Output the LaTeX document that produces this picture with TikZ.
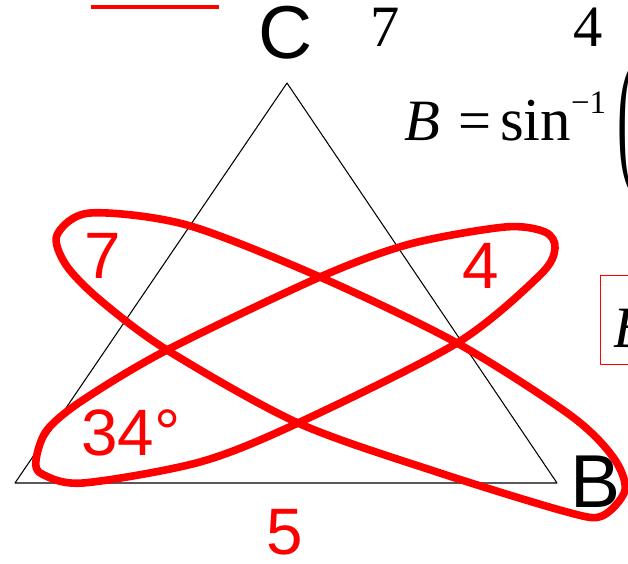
\documentclass[tikz,border=0pt]{standalone}
\usepackage{fontspec}
\setmainfont{Liberation Serif}
\setsansfont{Liberation Sans}
\begin{document}
\begin{tikzpicture}[x=0.03cm,y=-0.03cm,line cap=round,line join=round,
  lab/.style={inner sep=0pt,font=\sffamily\fontsize{64}{64}\selectfont},
  redlab/.style={inner sep=0pt,text=red,font=\sffamily\fontsize{56}{56}\selectfont},
  serif/.style={inner sep=0pt,font=\fontsize{50}{50}\selectfont},
  loop/.style={red,line width=6.5pt}]
  \clip (0,0) rectangle (628,563);
  % triangle
  \coordinate (A) at (15,483);
  \coordinate (C) at (287,83);
  \coordinate (B) at (557,483);
  \draw[line width=0.9pt] (A) -- (C) -- (B) -- cycle;
  \node[lab] (labC) at (286,33) {C};
  \node[lab] (labB) at (595,482) {B};
  % loops
  \draw[loop] plot[smooth cycle] coordinates {(57,235) (90,213) (187,225) (320,277) (457,343)
    (570,415) (613,457) (625,490) (602,516) (567,512) (440,473) (298,423) (167,350) (100,300) (66,265)};
  \draw[loop] plot[smooth cycle] coordinates {(36,460) (47,430) (83,400) (167,350) (320,277)
    (410,244) (505,227) (545,232) (555,248) (540,275) (457,343) (298,423) (200,462) (83,483) (42,474)};
  \node[redlab] (seven) at (103,256) {7};
  \node[redlab] (four) at (481,266) {4};
  \node[redlab] (angle) at (131,433) {34°};
  \node[redlab] (five) at (285,532) {5};
  % top
  \draw[red,line width=3.8pt,line cap=butt] (91,7) -- (219,7);
  \node[serif] (topseven) at (385,27) {7};
  \node[serif] (topfour) at (588,27) {4};
  \node[serif,anchor=base west] (formula) at (404,140) {\textit{B}\hspace{16pt}=\hspace{7pt}{\fontsize{52}{52}\selectfont sin}\raisebox{23pt}{\fontsize{28}{28}\selectfont −1}};
  \node[serif,anchor=west] (paren) at (617,130) {\resizebox*{16pt}{118pt}{(}};
  % boxed result
  \draw[red,line width=0.8pt] (600,275) rectangle (700,364);
  \node[serif,anchor=base west] (boxB) at (613,347) {\textit{B}};
\end{tikzpicture}
\end{document}
